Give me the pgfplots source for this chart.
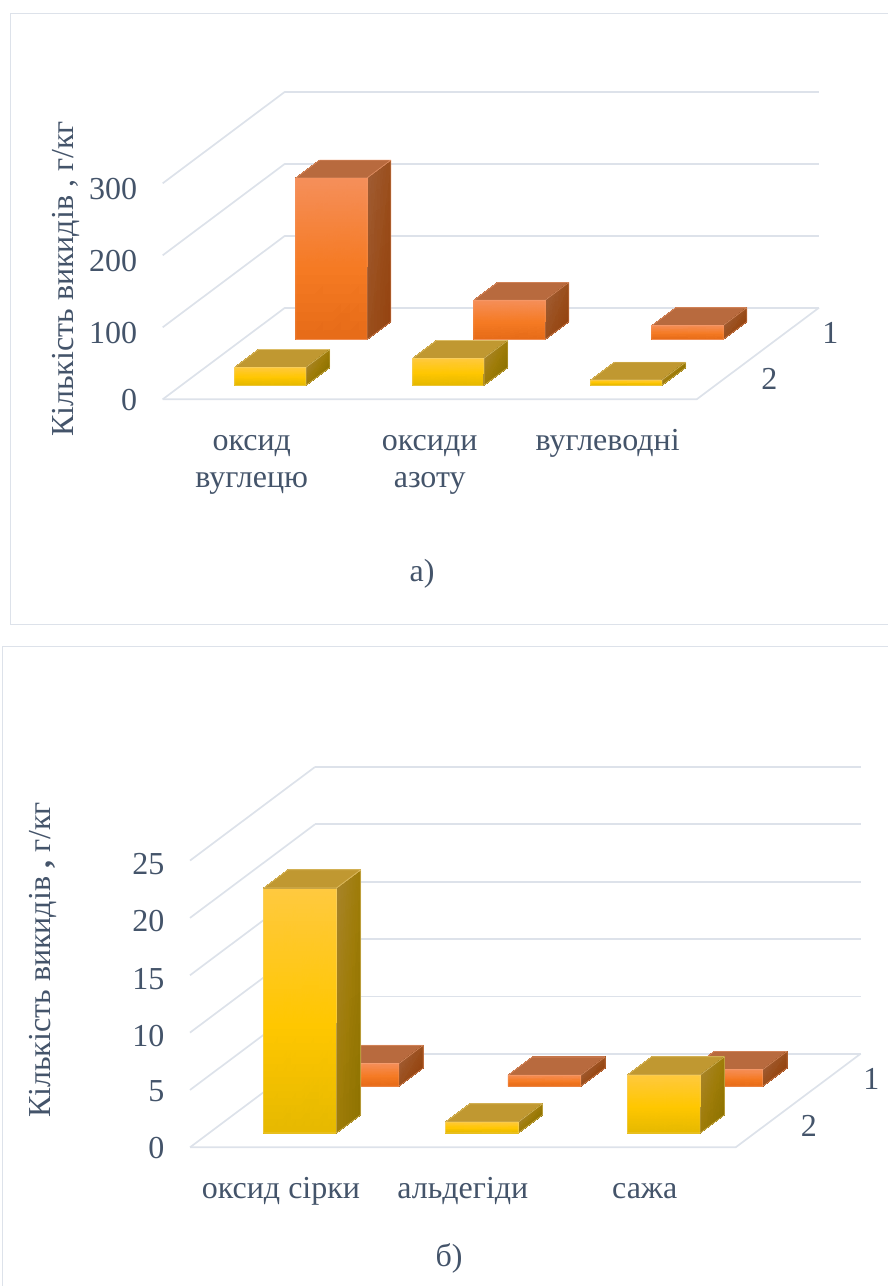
\documentclass[border=0pt]{standalone}
\usepackage{fontspec}
\setmainfont{Liberation Serif}
\usepackage{pgfplots}
\pgfplotsset{compat=1.18}
\usepgfplotslibrary{patchplots}

\definecolor{inkblue}{HTML}{44546A}
\definecolor{gridgrey}{HTML}{DDE2EA}
% orange series: front face stops, top face, side face stops, outline
\definecolor{oFT}{HTML}{F58F5A}
\definecolor{oFM}{HTML}{F57A23}
\definecolor{oFB}{HTML}{E56A17}
\definecolor{oTP}{HTML}{B86A3E}
\definecolor{oSA}{HTML}{A05C33}
\definecolor{oSB}{HTML}{9A4E1C}
\definecolor{oSC}{HTML}{954310}
\definecolor{oEG}{HTML}{F6A67C}
% yellow series
\definecolor{yFT}{HTML}{FFC93F}
\definecolor{yFM}{HTML}{FFC700}
\definecolor{yFB}{HTML}{E5B800}
\definecolor{yTP}{HTML}{C09831}
\definecolor{ySA}{HTML}{A88429}
\definecolor{ySB}{HTML}{9E7C08}
\definecolor{ySC}{HTML}{8E7200}
\definecolor{yEG}{HTML}{F0D68A}

% One box of the 3D column chart: {category position}{depth position}{value}{palette}
\newcommand{\columnbox}[4]{%
  \pgfmathsetmacro{\xa}{#1+0.30}\pgfmathsetmacro{\xb}{#1+0.70}%
  \pgfmathsetmacro{\ya}{#2+0.305}\pgfmathsetmacro{\yb}{#2+0.695}%
  \pgfmathsetmacro{\zm}{0.45*#3}%
  \addplot3[patch,patch type=rectangle,shader=interp,mesh/color input=explicit]
    coordinates {
      (\xa,\ya,#3) [color=#4FT] (\xb,\ya,#3) [color=#4FT] (\xb,\ya,\zm) [color=#4FM] (\xa,\ya,\zm) [color=#4FM]
      (\xa,\ya,\zm) [color=#4FM] (\xb,\ya,\zm) [color=#4FM] (\xb,\ya,0) [color=#4FB] (\xa,\ya,0) [color=#4FB]
      (\xa,\ya,#3) [color=#4TP] (\xb,\ya,#3) [color=#4TP] (\xb,\yb,#3) [color=#4TP] (\xa,\yb,#3) [color=#4TP]
      (\xb,\ya,#3) [color=#4SA] (\xb,\yb,#3) [color=#4SB] (\xb,\yb,0) [color=#4SC] (\xb,\ya,0) [color=#4SB]
    };
  \addplot3[#4EG,line width=0.6pt,opacity=0.6,line join=round,no marks]
    coordinates {
      (\xa,\ya,0) (\xb,\ya,0) (\xb,\yb,0) (\xb,\yb,#3) (\xa,\yb,#3) (\xa,\ya,#3) (\xa,\ya,0)
      (\xa,\ya,#3) (\xb,\ya,#3) (\xb,\yb,#3) (\xb,\ya,#3) (\xb,\ya,0)
    };
}

\pgfplotsset{
  column chart/.style={
    clip=false,
    axis line style={draw=none},
    major tick length=0pt,
    zmajorgrids=true,
    xmajorgrids=false,
    ymajorgrids=false,
    grid style={gridgrey,line width=1.7pt},
    /pgf/number format/assume math mode=true,
    ticklabel style={font=\fontsize{32}{37}\selectfont,text=inkblue},
    xticklabel style={align=center,anchor=north,yshift=-22pt},
    yticklabel style={xshift=29pt,yshift=11pt},
    zticklabel style={xshift=-22pt,yshift=3pt},
    xmin=0,xmax=3,ymin=0,ymax=2,
    xtick={0.5,1.5,2.5},
    ytick={0.5,1.5},
    yticklabels={2,1},
  },
}

\begin{document}
\begin{tikzpicture}[x=1pt,y=1pt]
\path[use as bounding box] (0,0) rectangle (887,-1286);
% panel frames
\draw[gridgrey,line width=1.7pt] (900,-13.5) -- (10.5,-13.5) -- (10.5,-624.5) -- (900,-624.5);
\draw[gridgrey,line width=1.7pt] (900,-646.5) -- (2.5,-646.5) -- (2.5,-1300);

% upper panel
\begin{axis}[column chart,
  at={(162.7pt,-399.3pt)},anchor=origin,
  x={(178pt,0pt)},y={(61.15pt,45.8pt)},z={(0pt,0.72pt)},
  zmin=0,zmax=300,ztick={0,100,200,300},
  xticklabels={{\strut оксид\\\strut вуглецю},{\strut оксиди\\\strut азоту},{\strut вуглеводні}},
]
\addplot3[gridgrey,line width=1.7pt,no marks] coordinates {(0,0,0) (3,0,0) (3,2,0)};
\columnbox{0}{1}{224.5}{o}
\columnbox{1}{1}{54.6}{o}
\columnbox{2}{1}{19.4}{o}
\columnbox{0}{0}{25}{y}
\columnbox{1}{0}{37.5}{y}
\columnbox{2}{0}{7.4}{y}
\end{axis}

% lower panel
\begin{axis}[column chart,
  at={(190pt,-1147.3pt)},anchor=origin,
  x={(181.9pt,0pt)},y={(62.5pt,46.8pt)},z={(0pt,11.47pt)},
  zmin=0,zmax=25,ztick={0,5,10,15,20,25},
  xticklabels={{\strut оксид сірки},{\strut альдегіди},{\strut сажа}},
]
\addplot3[gridgrey,line width=1.7pt,no marks] coordinates {(0,0,0) (3,0,0) (3,2,0)};
\columnbox{0}{1}{1.98}{o}
\columnbox{1}{1}{0.96}{o}
\columnbox{2}{1}{1.45}{o}
\columnbox{0}{0}{21.36}{y}
\columnbox{1}{0}{0.96}{y}
\columnbox{2}{0}{5.06}{y}
\end{axis}

\node[rotate=90,text=inkblue,font=\fontsize{32}{37}\selectfont] at (66,-279) {Кількість викидів , г/кг};
\node[rotate=90,text=inkblue,font=\fontsize{32}{37}\selectfont] at (43,-960) {Кількість викидів {\bfseries ,} г/кг};
\node[text=inkblue,font=\fontsize{32}{37}\selectfont] at (422,-574) {а)};
\node[text=inkblue,font=\fontsize{32}{37}\selectfont] at (449,-1258) {б)};
\end{tikzpicture}
\end{document}
